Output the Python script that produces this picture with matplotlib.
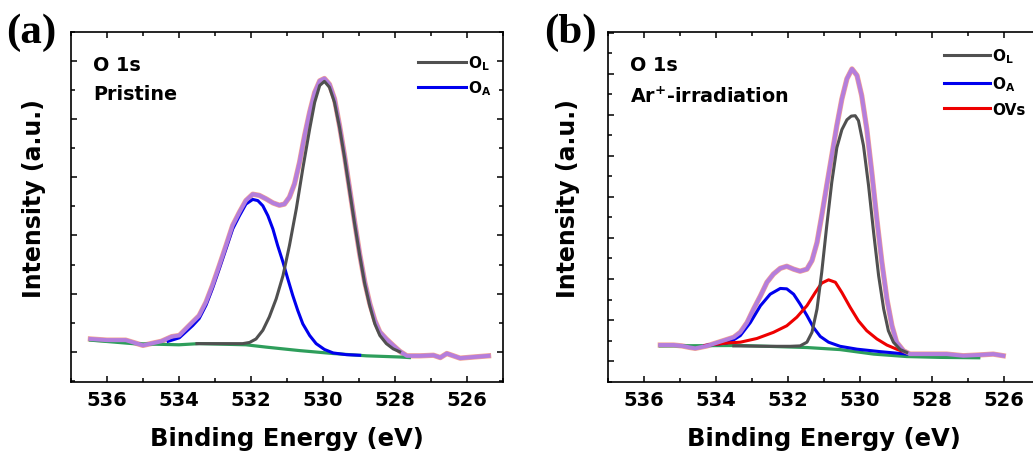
import matplotlib
matplotlib.use('Agg')
import matplotlib.pyplot as plt
from matplotlib.ticker import MultipleLocator, NullFormatter

plt.rcParams['font.family'] = 'DejaVu Sans'
plt.rcParams['font.weight'] = 'bold'
plt.rcParams['mathtext.fontset'] = 'dejavusans'
plt.rcParams['mathtext.default'] = 'bf'

# ---- panel (a): pristine O 1s ----
env_a_x = [536.46, 536.00, 535.48, 535.00, 534.49, 534.20, 533.99, 533.62, 533.44, 533.25,
           533.07, 532.88, 532.69, 532.51, 532.32, 532.14, 531.95, 531.77, 531.58, 531.39,
           531.21, 531.07, 530.93, 530.79, 530.65, 530.51, 530.37, 530.23, 530.09, 529.96,
           529.82, 529.68, 529.54, 529.40, 529.26, 529.12, 528.98, 528.84, 528.70, 528.56,
           528.42, 528.24, 528.05, 527.87, 527.67, 527.30, 526.93, 526.74, 526.56, 526.19,
           525.81, 525.40]
env_a_y = [0.22, 0.20, 0.20, 0.11, 0.18, 0.26, 0.28, 0.51, 0.62, 0.85,
           1.14, 1.48, 1.83, 2.17, 2.40, 2.60, 2.71, 2.69, 2.63, 2.56,
           2.52, 2.54, 2.66, 2.89, 3.26, 3.72, 4.12, 4.46, 4.66, 4.70,
           4.60, 4.35, 3.89, 3.37, 2.80, 2.23, 1.68, 1.20, 0.83, 0.54,
           0.34, 0.22, 0.11, 0.01, -0.07, -0.07, -0.06, -0.10, -0.03, -0.11,
           -0.09, -0.07]

ol_a_x = [533.50, 532.51, 532.23, 532.04, 531.86, 531.67, 531.49, 531.30, 531.11, 530.93,
          530.74, 530.56, 530.37, 530.23, 530.09, 529.96, 529.82, 529.68, 529.54, 529.40,
          529.26, 529.12, 528.98, 528.84, 528.70, 528.56, 528.42, 528.24, 528.05, 527.87]
ol_a_y = [0.14, 0.14, 0.14, 0.16, 0.22, 0.37, 0.60, 0.91, 1.31, 1.83,
          2.46, 3.15, 3.83, 4.29, 4.58, 4.65, 4.55, 4.29, 3.86, 3.34,
          2.77, 2.20, 1.66, 1.17, 0.79, 0.48, 0.28, 0.14, 0.05, 0.00]

oa_a_x = [534.30, 533.99, 533.62, 533.44, 533.25, 533.07, 532.88, 532.69, 532.51, 532.32,
          532.14, 531.95, 531.81, 531.67, 531.53, 531.39, 531.26, 531.11, 530.98, 530.84,
          530.70, 530.56, 530.37, 530.19, 529.96, 529.72, 529.35, 528.98]
oa_a_y = [0.18, 0.24, 0.45, 0.57, 0.80, 1.09, 1.43, 1.78, 2.11, 2.34,
          2.54, 2.62, 2.60, 2.51, 2.34, 2.11, 1.83, 1.54, 1.26, 0.97,
          0.71, 0.48, 0.28, 0.14, 0.04, -0.02, -0.05, -0.06]

bg_a_x = [536.46, 535.29, 534.00, 533.44, 532.14, 531.58, 530.65, 529.72, 528.79, 527.87, 527.60]
bg_a_y = [0.20, 0.14, 0.12, 0.14, 0.12, 0.08, 0.02, -0.03, -0.07, -0.09, -0.10]

# ---- panel (b): Ar+ irradiated O 1s ----
env_b_x = [535.54, 535.17, 534.94, 534.71, 534.57, 534.24, 533.78, 533.50, 533.32, 533.13,
           532.95, 532.76, 532.58, 532.40, 532.21, 532.03, 531.84, 531.66, 531.47, 531.33,
           531.19, 531.06, 530.92, 530.78, 530.64, 530.50, 530.36, 530.22, 530.08, 529.95,
           529.81, 529.67, 529.53, 529.39, 529.25, 529.11, 528.98, 528.79, 528.61, 528.33,
           528.05, 527.59, 527.13, 526.67, 526.30, 526.02]
env_b_y = [0.39, 0.39, 0.37, 0.33, 0.31, 0.37, 0.50, 0.58, 0.70, 0.94,
           1.27, 1.59, 1.92, 2.12, 2.26, 2.31, 2.24, 2.19, 2.24, 2.45,
           2.89, 3.54, 4.28, 5.01, 5.74, 6.39, 6.88, 7.12, 6.96, 6.47,
           5.66, 4.60, 3.46, 2.41, 1.51, 0.86, 0.46, 0.25, 0.17, 0.17,
           0.17, 0.17, 0.13, 0.15, 0.17, 0.13]

ol_b_x = [533.50, 532.50, 531.93, 531.66, 531.47, 531.33, 531.19, 531.06, 530.92, 530.78,
          530.64, 530.50, 530.36, 530.24, 530.13, 530.04, 529.90, 529.76, 529.62, 529.48,
          529.34, 529.21, 529.07, 528.88, 528.70]
ol_b_y = [0.37, 0.36, 0.36, 0.37, 0.46, 0.70, 1.27, 2.16, 3.30, 4.36,
          5.20, 5.64, 5.88, 5.97, 5.98, 5.86, 5.25, 4.28, 3.14, 2.08,
          1.27, 0.74, 0.46, 0.28, 0.21]

oa_b_x = [534.30, 533.69, 533.50, 533.32, 533.04, 532.76, 532.49, 532.21, 532.03, 531.84,
          531.66, 531.47, 531.29, 531.10, 530.87, 530.55, 530.08, 529.44, 528.70]
oa_b_y = [0.38, 0.44, 0.52, 0.62, 0.94, 1.35, 1.63, 1.77, 1.76, 1.63,
          1.39, 1.11, 0.82, 0.60, 0.46, 0.36, 0.29, 0.23, 0.17]

ov_b_x = [534.30, 533.69, 533.32, 532.86, 532.40, 532.03, 531.75, 531.47, 531.24, 531.06,
          530.87, 530.68, 530.50, 530.27, 530.04, 529.81, 529.53, 529.25, 528.98, 528.70]
ov_b_y = [0.38, 0.44, 0.46, 0.55, 0.70, 0.86, 1.07, 1.35, 1.67, 1.90,
          1.98, 1.92, 1.67, 1.31, 0.98, 0.74, 0.54, 0.39, 0.29, 0.20]

bg_b_x = [535.54, 533.32, 531.47, 530.55, 529.62, 528.70, 527.78, 526.70]
bg_b_y = [0.37, 0.38, 0.33, 0.28, 0.17, 0.11, 0.09, 0.08]

C_RAW = '#f4a493'
C_ENV = '#b47edc'
C_OL = '#505050'
C_OA = '#0000ee'
C_OV = '#ee0000'
C_BG = '#2e9e5b'


def style_axes(ax, ylo, yhi):
    ax.set_xlim(537, 525)
    ax.set_ylim(ylo, yhi)
    ax.xaxis.set_major_locator(MultipleLocator(2))
    ax.xaxis.set_minor_locator(MultipleLocator(1))
    ax.yaxis.set_major_locator(MultipleLocator(1))
    ax.yaxis.set_minor_locator(MultipleLocator(0.5))
    ax.yaxis.set_major_formatter(NullFormatter())
    ax.tick_params(which='both', direction='in', top=True, right=True, width=1.1)
    ax.tick_params(which='major', length=4.5)
    ax.tick_params(which='minor', length=2.8)
    ax.tick_params(axis='x', which='major', labelsize=14, pad=6)
    for s in ax.spines.values():
        s.set_linewidth(1.2)
    ax.set_xlabel('Binding Energy (eV)', fontsize=17.5, fontweight='bold')
    ax.set_ylabel('Intensity (a.u.)', fontsize=17, fontweight='bold')
    ax.xaxis.set_label_coords(0.5, -0.125)


fig = plt.figure(figsize=(10.33, 4.6), dpi=100)
ax1 = fig.add_axes([0.0687, 0.1674, 0.4182, 0.7609])
ax2 = fig.add_axes([0.5883, 0.1674, 0.4185, 0.7609])

# (a)
ax1.plot(env_a_x, env_a_y, color=C_RAW, lw=3.8, zorder=1)
ax1.plot(bg_a_x, bg_a_y, color=C_BG, lw=2.3, zorder=2)
l_oa, = ax1.plot(oa_a_x, oa_a_y, color=C_OA, lw=2.2, zorder=3, label=r'O$_{A}$')
ax1.plot(env_a_x, env_a_y, color=C_ENV, lw=2.9, zorder=4)
l_ol, = ax1.plot(ol_a_x, ol_a_y, color=C_OL, lw=2.2, zorder=5, label=r'O$_{L}$')
style_axes(ax1, -0.52, 5.5)
ax1.yaxis.set_label_coords(-0.058, 0.527)
ax1.text(0.051, 0.906, 'O 1s', transform=ax1.transAxes, fontsize=13.8,
         fontweight='bold', va='center', ha='left')
ax1.text(0.051, 0.823, 'Pristine', transform=ax1.transAxes, fontsize=13.8,
         fontweight='bold', va='center', ha='left')
ax1.legend(handles=[l_ol, l_oa], loc='upper left', bbox_to_anchor=(0.804, 0.94),
           frameon=False, fontsize=11, handlelength=3.1, handletextpad=0.15,
           labelspacing=0.42, borderpad=0, borderaxespad=0)

# (b)
ax2.plot(env_b_x, env_b_y, color=C_RAW, lw=3.8, zorder=1)
ax2.plot(bg_b_x, bg_b_y, color=C_BG, lw=2.3, zorder=2)
l2_oa, = ax2.plot(oa_b_x, oa_b_y, color=C_OA, lw=2.2, zorder=3, label=r'O$_{A}$')
l2_ov, = ax2.plot(ov_b_x, ov_b_y, color=C_OV, lw=2.2, zorder=3, label='OVs')
ax2.plot(env_b_x, env_b_y, color=C_ENV, lw=2.9, zorder=4)
l2_ol, = ax2.plot(ol_b_x, ol_b_y, color=C_OL, lw=2.2, zorder=5, label=r'O$_{L}$')
style_axes(ax2, -0.51, 8.02)
ax2.yaxis.set_label_coords(-0.064, 0.527)
ax2.text(0.052, 0.906, 'O 1s', transform=ax2.transAxes, fontsize=13.8,
         fontweight='bold', va='center', ha='left')
ax2.text(0.052, 0.817, r'Ar$^{+}$-irradiation', transform=ax2.transAxes, fontsize=13.8,
         fontweight='bold', va='center', ha='left')
ax2.legend(handles=[l2_ol, l2_oa, l2_ov], loc='upper left', bbox_to_anchor=(0.778, 0.96),
           frameon=False, fontsize=11, handlelength=3.0, handletextpad=0.15,
           labelspacing=0.6, borderpad=0, borderaxespad=0)

# panel letters
fig.text(0.006, 0.928, '(a)', fontsize=31, fontweight='bold',
         family='Liberation Serif', va='center', ha='left')
fig.text(0.527, 0.928, '(b)', fontsize=31, fontweight='bold',
         family='Liberation Serif', va='center', ha='left')

fig.savefig('out.png', dpi=100)
